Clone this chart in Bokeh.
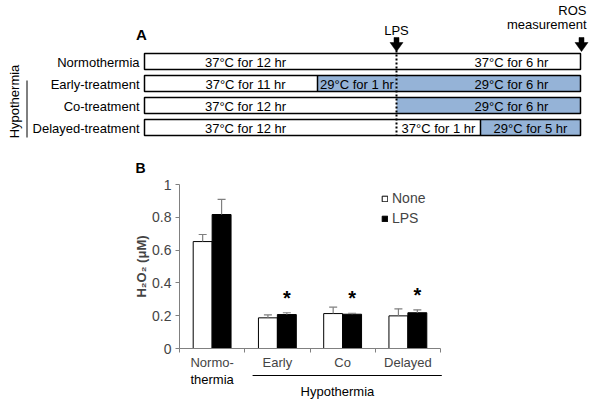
import numpy as np
from bokeh.plotting import figure
from bokeh.models import (Range1d, FixedTicker, NumeralTickFormatter, Whisker, TeeHead,
                          ColumnDataSource)
from bokeh.layouts import column, row
from bokeh.core.properties import value
from bokeh.embed import file_html
from bokeh.resources import INLINE

FONT = "Liberation Sans"

# ---------------- Panel A data (protocol timeline) ----------------
rows = ["Normothermia", "Early-treatment", "Co-treatment", "Delayed-treatment"]
hypo_label = "Hypothermia"
seg_row = [0, 0, 1, 1, 1, 2, 2, 3, 3, 3]
seg_start = [0, 12, 0, 11, 12, 0, 12, 0, 12, 13]
seg_end = [12, 18, 11, 12, 18, 12, 18, 12, 13, 18]
seg_temp = [37, 37, 37, 29, 29, 37, 29, 37, 37, 29]
seg_label = ["37°C for 12 hr", "37°C for 6 hr", "37°C for 11 hr", "29°C for 1 hr",
             "29°C for 6 hr", "37°C for 12 hr", "29°C for 6 hr", "37°C for 12 hr",
             "37°C for 1 hr", "29°C for 5 hr"]
lps_hour = 12
ros_hour = 18

# ---------------- Panel B data (H2O2) ----------------
cats = ["Normo-\nthermia", "Early", "Co", "Delayed"]
group_label = "Hypothermia"
none_mean = [0.652, 0.187, 0.213, 0.199]
none_err = [0.043, 0.018, 0.039, 0.043]
lps_mean = [0.817, 0.207, 0.209, 0.218]
lps_err = [0.092, 0.011, 0.006, 0.018]
signif = [False, True, True, True]
yticks = [0, 0.2, 0.4, 0.6, 0.8, 1]

O = 0            # page origin of the layout
W = 600
TOP_B = 176      # page y where figure B canvas starts
TOP_C = 370      # page y where figure C canvas starts
BOT = 403

def canvas_fig(y0, y1):
    f = figure(width=W, height=y1 - y0, x_range=Range1d(O, O + W), y_range=Range1d(y1, y0),
               output_backend="svg", toolbar_location=None, x_axis_location=None,
               y_axis_location=None, min_border=0, outline_line_color=None,
               frame_width=W, frame_height=y1 - y0)
    f.xgrid.visible = False
    f.ygrid.visible = False
    return f

# ======== Panel A figure (schematic drawn in page pixel space) ========
pa = canvas_fig(O, TOP_B)

knots_h = [0, 11, 12, 13, 18]          # schematic (not-to-scale) time axis
knots_px = [144, 317, 396, 480, 580]
def hx(h):
    return np.interp(h, knots_h, knots_px)

ROW_TOP0, ROW_PITCH, ROW_H = 53, 22, 16
row_top = [ROW_TOP0 + i * ROW_PITCH for i in range(len(rows))]
BLUE = "#95B3D7"

s_left = [float(hx(s)) for s in seg_start]
s_right = [float(hx(e)) for e in seg_end]
s_top = [row_top[r] for r in seg_row]
s_bot = [row_top[r] + ROW_H for r in seg_row]
s_fill = [BLUE if t == 29 else "white" for t in seg_temp]
pa.quad(left=s_left, right=s_right, top=s_top, bottom=s_bot, fill_color=s_fill,
        line_color=None)
pa.quad(left=[float(hx(0))] * len(rows), right=[float(hx(ros_hour))] * len(rows),
        top=row_top, bottom=[t + ROW_H for t in row_top], fill_color=None,
        line_color="black", line_width=1.5)
dx, dy0, dy1 = [], [], []
for i in range(1, len(seg_row)):
    if seg_row[i] == seg_row[i - 1] and seg_temp[i] != seg_temp[i - 1] and seg_start[i] != lps_hour:
        dx.append(float(hx(seg_start[i])))
        dy0.append(row_top[seg_row[i]])
        dy1.append(row_top[seg_row[i]] + ROW_H)
pa.segment(x0=dx, x1=dx, y0=dy0, y1=dy1, line_color="black", line_width=1.5)
xl = float(hx(lps_hour))
pa.segment(x0=[xl], x1=[xl], y0=[50], y1=[row_top[-1] + ROW_H], line_color="black",
           line_width=2, line_dash="2 2")

lab_x = []
for s, e, l, r in zip(seg_start, seg_end, s_left, s_right):
    if s == 0:
        lab_x.append(245)
    elif e == ros_hour and (e - s) >= 6:
        lab_x.append(511)
    else:
        lab_x.append((l + r) / 2)
pa.text(x=lab_x, y=[t + ROW_H / 2 + 1 for t in s_top], text=seg_label,
        text_font=value(FONT), text_font_size="13px", text_align="center",
        text_baseline="middle", text_color="black")
pa.text(x=[139] * len(rows), y=[t + ROW_H / 2 + 1 for t in row_top], text=rows,
        text_font=value(FONT), text_font_size="13px", text_align="right",
        text_baseline="middle", text_color="black")

def arrow_patch(xc, y0, y1):
    sh, hw, hs = 2.5, 6.5, y0 + 5
    return ([xc - sh, xc + sh, xc + sh, xc + hw, xc, xc - hw, xc - sh],
            [y0, y0, hs, hs, y1, hs, hs])
axs, ays = [], []
for h in (lps_hour, ros_hour):
    a, b = arrow_patch(float(hx(h)) + (1 if h == ros_hour else 0), 37, 51)
    axs.append(a); ays.append(b)
pa.patches(xs=axs, ys=ays, fill_color="black", line_color="black", line_width=0.5)
pa.text(x=[xl], y=[30], text=["LPS"], text_font=value(FONT), text_font_size="13px",
        text_align="center", text_baseline="middle")
pa.text(x=[586, 586], y=[10, 24], text=["ROS", "measurement"], text_font=value(FONT),
        text_font_size="13px", text_align="right", text_baseline="middle")
pa.text(x=[141], y=[34], text=["A"], text_font=value(FONT),
        text_font_size="15px", text_font_style="bold", text_align="center",
        text_baseline="middle")
pa.text(x=[140], y=[167.5], text=["B"], text_font=value(FONT),
        text_font_size="14px", text_font_style="bold", text_align="center",
        text_baseline="middle")
pa.text(x=[14], y=[101], text=[hypo_label], text_font=value(FONT), text_font_size="13px",
        angle=np.pi / 2, text_align="center", text_baseline="middle")
pa.segment(x0=[26.5], x1=[26.5], y0=[80], y1=[137], line_color="black", line_width=1)

# ======== Panel B figure (bar chart with real axes) ========
FL, FR, FT, FB = 179, 440, 184, 348   # frame edges on the page
pb = figure(width=W, height=TOP_C - TOP_B, x_range=Range1d(0, 4), y_range=Range1d(0, 1),
            output_backend="svg", toolbar_location=None,
            min_border_left=FL - O, min_border_right=O + W - FR,
            min_border_top=FT - TOP_B, min_border_bottom=TOP_C - FB,
            frame_width=FR - FL, frame_height=FB - FT, outline_line_color=None)
pb.xgrid.visible = False
pb.ygrid.visible = False

xc = np.arange(len(cats)) + 0.5
BW = 0.29
x_none = xc - BW / 2
x_lps = xc + BW / 2
src = ColumnDataSource(dict(x_none=x_none, x_lps=x_lps, none_mean=none_mean,
                            lps_mean=lps_mean,
                            none_up=np.array(none_mean) + np.array(none_err),
                            lps_up=np.array(lps_mean) + np.array(lps_err)))
ERRC = "#7f7f7f"
for xk, lo, up in (("x_none", "none_mean", "none_up"), ("x_lps", "lps_mean", "lps_up")):
    w = Whisker(base=xk, lower=lo, upper=up, source=src, line_color=ERRC, line_width=1.2,
                lower_head=None, upper_head=TeeHead(size=8, line_color=ERRC, line_width=1.2),
                level="glyph")
    pb.add_layout(w)
pb.vbar(x="x_none", top="none_mean", width=BW, source=src, fill_color="white",
        line_color="black", line_width=1, legend_label="None")
pb.vbar(x="x_lps", top="lps_mean", width=BW, source=src, fill_color="black",
        line_color="black", line_width=1, legend_label="LPS")

ast_x = [x for x, s in zip(x_lps, signif) if s]
ast_y = [m + e + 0.092 for m, e, s in zip(lps_mean, lps_err, signif) if s]
pb.text(x=ast_x, y=ast_y, text=["*"] * len(ast_x), text_font=value(FONT),
        text_font_size="20px", text_font_style="bold", text_align="center",
        text_baseline="alphabetic")

AXC = "#808080"
yax = pb.yaxis[0]
yax.ticker = FixedTicker(ticks=yticks, minor_ticks=[])
yax.formatter = NumeralTickFormatter(format="0.[0]")
yax.axis_label = "H₂O₂ (μM)"
yax.axis_label_text_font = FONT
yax.axis_label_text_font_style = "bold"
yax.axis_label_text_font_size = "13px"
yax.axis_label_standoff = 0
yax.major_label_text_font = FONT
yax.major_label_text_font_size = "14px"
yax.major_label_standoff = 4
yax.major_tick_out = 4
yax.major_tick_in = 0
yax.axis_line_color = AXC
yax.major_tick_line_color = AXC

line1 = [c.split("\n")[0] for c in cats]
line2 = [c.split("\n")[1] if "\n" in c else "" for c in cats]
xax = pb.xaxis[0]
xax.ticker = FixedTicker(ticks=list(xc), minor_ticks=list(range(len(cats) + 1)))
xax.major_label_overrides = {float(x): c for x, c in zip(xc, line1)}
xax.major_label_text_font = FONT
xax.major_label_text_font_size = "13px"
xax.major_label_standoff = 2
xax.major_tick_out = 0
xax.major_tick_in = 0
xax.minor_tick_out = 4
xax.minor_tick_in = 0
xax.axis_line_color = AXC
xax.minor_tick_line_color = AXC

lg = pb.legend[0]
lg.location = (202, 122)
lg.label_text_font = FONT
lg.label_text_font_size = "14px"
lg.glyph_width = 7
lg.glyph_height = 7
lg.label_height = 14
lg.spacing = 4
lg.padding = 0
lg.margin = 0
lg.label_standoff = 4
lg.background_fill_alpha = 0
lg.border_line_color = None

# ======== Panel B continuation: 2nd label line and the group bracket ========
pc = canvas_fig(TOP_C, BOT)
unit = (FR - FL) / 4.0
def bx(v):
    return FL + v * unit
l2x = [float(bx(x)) for x, t in zip(xc, line2) if t]
pc.text(x=l2x, y=[377] * len(l2x), text=[t for t in line2 if t], text_font=value(FONT),
        text_font_size="13px", text_align="center", text_baseline="middle")
gx0, gx1 = bx(1 + 0.12), bx(len(cats) + 0.02)
pc.segment(x0=[gx0], x1=[gx1], y0=[373], y1=[373], line_color="black", line_width=1)
pc.text(x=[float(bx(2.42))], y=[389], text=[group_label], text_font=value(FONT),
        text_font_size="13px", text_align="center", text_baseline="middle")

layout = column(row(pa), row(pb), row(pc), spacing=0)
open("out.html", "w").write(file_html(layout, INLINE))
